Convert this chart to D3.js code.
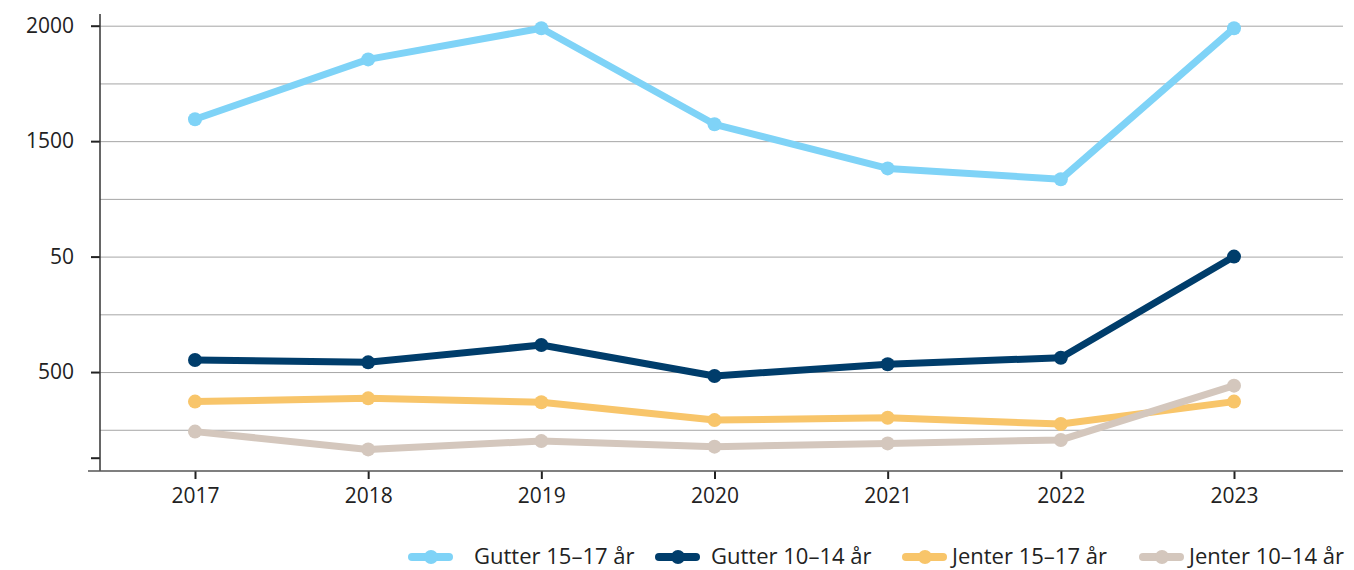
<!DOCTYPE html>
<html>
<head>
<meta charset="utf-8">
<script src="https://cdn.jsdelivr.net/npm/d3@7"></script>
<style>
  body { margin: 0; background: #fff; }
  svg { display: block; font-family: "Open Sans", "Noto Sans", sans-serif; }
  .grid line { stroke: #a6a6a6; stroke-width: 1; }
  .grid path { display: none; }
  .tick text { fill: #222; }
  .legend text { fill: #222; }
</style>
</head>
<body>
<div id="chart"></div>
<script>
const years = [2017, 2018, 2019, 2020, 2021, 2022, 2023];

const gutter1517 = [1595, 1854, 1989, 1573, 1382, 1335, 1989];
const gutter1014 = [552, 542, 617, 483, 534, 562, 1000];
const jenter1517 = [372, 386, 369, 292, 302, 275, 372];
const jenter1014 = [242, 165, 201, 177, 191, 206, 441];

const seriesNames = ["Gutter 15–17 år", "Gutter 10–14 år", "Jenter 15–17 år", "Jenter 10–14 år"];
const seriesColors = ["#7fd3f7", "#003d6b", "#f8c56a", "#d4c7bd"];

// the y axis labels in the source are odd, kept as they are
const yTickValues = [2000, 1500, 1000, 500, 129];
const yTickLabels = ["2000", "1500", "50", "500", ""];
const gridValues = d3.range(250, 2001, 250);

const width = 1354, height = 570;
const axisX = 100, axisBottom = 471, plotRight = 1343;

const svg = d3.select("#chart").append("svg")
    .attr("width", width)
    .attr("height", height);

const x = d3.scalePoint().domain(years).range([195, 1234]);
const y = d3.scaleLinear().domain([0, 2000]).range([487.5, 25.7]);

// grid
svg.append("g")
    .attr("class", "grid")
    .attr("transform", `translate(${axisX},0)`)
    .call(d3.axisLeft(y).tickValues(gridValues).tickSize(-(plotRight - axisX)).tickFormat(""));

// y axis
const yAxis = svg.append("g")
    .attr("transform", `translate(${axisX},0)`)
    .call(d3.axisLeft(y).tickValues(yTickValues).tickSize(9).tickPadding(17)
        .tickFormat((d, i) => yTickLabels[i]))
    .attr("font-family", null)
    .attr("font-size", 21);
yAxis.select(".domain").remove();
yAxis.selectAll(".tick line").attr("stroke", "#222").attr("stroke-width", 2);

svg.append("line")
    .attr("x1", axisX).attr("x2", axisX)
    .attr("y1", 14).attr("y2", axisBottom)
    .attr("stroke", "#333").attr("stroke-width", 1.5);

// x axis
const xAxis = svg.append("g")
    .attr("transform", `translate(0,${axisBottom})`)
    .call(d3.axisBottom(x).tickSize(8).tickPadding(9).tickFormat(d3.format("d")))
    .attr("font-family", null)
    .attr("font-size", 21);
xAxis.select(".domain").remove();
xAxis.selectAll(".tick line").attr("stroke", "#222").attr("stroke-width", 2);

svg.append("line")
    .attr("x1", 88).attr("x2", plotRight)
    .attr("y1", axisBottom).attr("y2", axisBottom)
    .attr("stroke", "#555").attr("stroke-width", 1.5);

// lines
const allSeries = [gutter1517, gutter1014, jenter1517, jenter1014];
const line = d3.line().x((d, i) => x(years[i])).y(d => y(d));

allSeries.forEach((vals, s) => {
    const g = svg.append("g");
    g.append("path")
        .datum(vals)
        .attr("d", line)
        .attr("fill", "none")
        .attr("stroke", seriesColors[s])
        .attr("stroke-width", 7)
        .attr("stroke-linejoin", "round");
    g.selectAll("circle")
        .data(vals)
        .join("circle")
        .attr("cx", (d, i) => x(years[i]))
        .attr("cy", d => y(d))
        .attr("r", 7)
        .attr("fill", seriesColors[s]);
});

// legend
const legendX = [408, 655, 902, 1139];
const legendTextX = [66, 56, 50, 50];
const legend = svg.append("g").attr("class", "legend");
seriesNames.forEach((name, i) => {
    const g = legend.append("g").attr("transform", `translate(${legendX[i]},557)`);
    g.append("line")
        .attr("x1", 4).attr("x2", 41)
        .attr("stroke", seriesColors[i]).attr("stroke-width", 8)
        .attr("stroke-linecap", "round");
    g.append("circle").attr("cx", 23).attr("r", 7).attr("fill", seriesColors[i]);
    g.append("text")
        .attr("x", legendTextX[i])
        .attr("y", 7)
        .attr("font-size", 22)
        .text(name);
});
</script>
</body>
</html>
